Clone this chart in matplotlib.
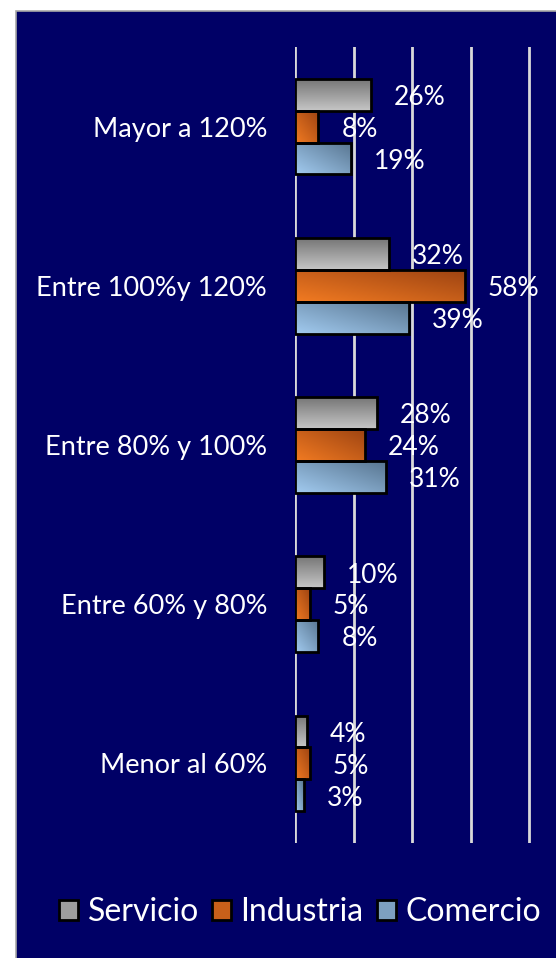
import numpy as np
import matplotlib
matplotlib.use("Agg")
import matplotlib.pyplot as plt
from matplotlib.patches import Rectangle, Patch
from matplotlib.colors import to_rgb

plt.rcParams['font.family'] = ['Lato', 'DejaVu Sans']

# ---------------- datos ----------------
categorias = ['Mayor a 120%', 'Entre 100%y 120%', 'Entre 80% y 100%',
              'Entre 60% y 80%', 'Menor al 60%']
servicio = [26, 32, 28, 10, 4]
industria = [8, 58, 24, 5, 5]
comercio = [19, 39, 31, 8, 3]
series = ['Servicio', 'Industria', 'Comercio']
valores = [servicio, industria, comercio]

# colores de degradado (claro, oscuro) y sentido
grad = {
    'Servicio': ('#c6c6c6', '#767676', 'v'),
    'Industria': ('#f27b22', '#9e4412', 'd'),
    'Comercio': ('#a2cbf0', '#587590', 'd'),
}
fondo = '#000066'

W, H = 556, 958
fig = plt.figure(figsize=(W / 100, H / 100), dpi=100)
fig.patch.set_facecolor('white')
fig.patches.append(Rectangle((16 / W, -0.01), 1.0, 1 - 11 / H + 0.01,
                             transform=fig.transFigure, facecolor=fondo,
                             edgecolor='#a8a8a8', lw=1.2, zorder=-5))

x_left, px_per_pct = 295, 2.93
y_top, y_bot = 47, 843
ax = fig.add_axes([x_left / W, 1 - y_bot / H, (W - x_left) / W, (y_bot - y_top) / H])
ax.set_facecolor('none')


def gradiente(c_claro, c_oscuro, modo, n=64):
    a = np.array(to_rgb(c_claro))
    b = np.array(to_rgb(c_oscuro))
    u = np.linspace(0, 1, n)
    uu, vv = np.meshgrid(u, u)  # vv: 0 abajo, 1 arriba (origin lower)
    if modo == 'v':
        t = vv
    else:
        t = (uu + vv) / 2
    return a + (b - a) * t[..., None]


pos = np.arange(len(categorias))[::-1]
alto = 0.2
offsets = [alto, 0, -alto]
for s, vals, off in zip(series, valores, offsets):
    c1, c2, modo = grad[s]
    img = gradiente(c1, c2, modo)
    for p, v in zip(pos, vals):
        y0 = p + off - alto / 2
        rect = Rectangle((0, y0), v, alto, facecolor='none', edgecolor='black',
                         lw=2.0, zorder=4)
        ax.add_patch(rect)
        im = ax.imshow(img, extent=[0, v, y0, y0 + alto], origin='lower',
                       aspect='auto', zorder=3, interpolation='bilinear')
        im.set_clip_path(rect)
        ax.annotate(f'{v}%', (v, p + off), xytext=(16.5, -2), textcoords='offset points',
                    ha='left', va='center', color='white', fontsize=19, zorder=5)

ax.set_xlim(0, (W - x_left) / px_per_pct)
ax.set_ylim(-0.5, len(categorias) - 0.5)
ax.set_xticks([0, 20, 40, 60, 80])
ax.set_xticklabels([])
ax.set_yticks(pos)
ax.set_yticklabels(categorias, color='white', fontsize=19.5)
ax.tick_params(axis='both', length=0)
ax.tick_params(axis='y', pad=20)
ax.grid(axis='x', color='#d9d9d9', lw=2, zorder=1)
ax.set_axisbelow(True)
for sp in ax.spines.values():
    sp.set_visible(False)

handles = [Patch(facecolor=np.mean([to_rgb(grad[s][0]), to_rgb(grad[s][1])], axis=0),
                 edgecolor='black', lw=2) for s in series]
fig.legend(handles, series, loc='center', bbox_to_anchor=(300 / W, 1 - 912 / H),
           ncol=3, frameon=False, labelcolor='white', fontsize=23,
           handlelength=0.6, handleheight=0.6, handletextpad=0.3,
           columnspacing=0.4, borderaxespad=0)

fig.savefig('out.png', dpi=100)
